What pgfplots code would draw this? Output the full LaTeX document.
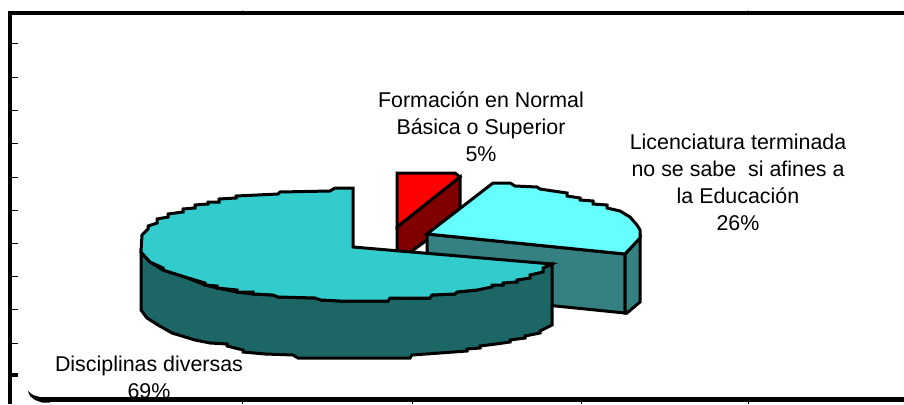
\documentclass[border=0pt]{standalone}
\usepackage{fontspec}
\setmainfont{Liberation Sans}
\usepackage{pgfplots}
\pgfplotsset{compat=1.18}
\definecolor{mainTop}{HTML}{33CCCC}
\definecolor{mainSide}{HTML}{1C6666}
\definecolor{licTop}{HTML}{66FFFF}
\definecolor{licSide}{HTML}{358080}
\definecolor{redTop}{HTML}{FF0000}
\definecolor{redSide}{HTML}{800000}
\begin{document}
\begin{tikzpicture}
\begin{axis}[
    scale only axis,
    width=904pt,
    height=404pt,
    xmin=0, xmax=904,
    ymin=0, ymax=404,
    y dir=reverse,
    axis line style={draw=none},
    ticks=none,
    unbounded coords=jump,
    pie/.style={draw=black, line width=3pt, line join=miter},
]
% red slice, side then top
\addplot[pie, fill=redSide] coordinates {
    (397,227) (460,177) (460,215) (427,240) (397,262)
} --cycle;
\addplot[pie, fill=redTop] coordinates {
    (397,173) (455,173) (460,177) (397,227)
} --cycle;
% licenciatura slice
\addplot[pie, fill=licSide] coordinates {
    (427,234) (625,254) (625,313) (427,293)
} --cycle;
\addplot[pie, fill=licSide] coordinates {
    (625,254) (640,238) (640,302) (627,313) (625,313)
} --cycle;
\addplot[pie, fill=licTop] coordinates {
    (427,234) (493,183) (510,183) (515,186) (537,187) (540,189) (553,191)
    (567,193) (567,196) (580,198) (580,200) (593,201) (593,204) (607,205)
    (607,208) (620,211) (630,217) (637,225) (640,230) (640,238) (625,254)
} --cycle;
% main slice, side then top
\addplot[pie, fill=mainSide] coordinates {
    (141,252) (150,262) (163,270) (185,277) (205,285) (217,288) (237,292)
    (253,294) (273,295) (278,297) (315,298) (321,300) (340,301) (388,301)
    (390,298) (430,298) (432,295) (455,294) (457,292) (477,290) (492,285)
    (503,283) (517,280) (530,275) (543,268) (552,264)
    (552,325) (540,331) (540,333) (525,336) (525,338) (510,340) (510,342)
    (496,344) (480,346) (480,348) (467,349) (467,351) (440,353) (412,355)
    (410,358) (298,358) (293,355) (265,354) (243,352) (243,350) (227,346)
    (227,344) (210,343) (195,340) (172,333) (158,325) (147,318) (141,310)
} --cycle;
\addplot[pie, fill=mainTop] coordinates {
    (353,247) (353,188) (335,188) (330,191) (280,192) (278,194) (257,195)
    (236,196) (236,198) (219,199) (219,202) (208,202) (208,204) (195,205)
    (195,208) (183,209) (183,212) (168,214) (168,217) (157,219) (157,223)
    (148,226) (148,229) (142,235) (141,252) (150,262) (163,268) (163,270)
    (185,277) (205,283) (205,285) (217,286) (217,288) (237,290) (237,292)
    (253,292) (253,294) (273,295) (278,297) (315,298) (321,300)
    (340,301) (388,301) (390,298) (430,298) (432,295) (455,294) (457,292)
    (477,290) (492,287) (492,285) (503,285) (503,283) (517,282) (517,280)
    (530,278) (530,275) (543,272) (543,268) (552,264)
} --cycle;
% labels
\node[align=center, font=\fontsize{21.4}{27}\selectfont, anchor=center]
    at (axis cs:481,127) {Formación en Normal\\Básica o Superior\\5\%};
\node[align=center, font=\fontsize{21.4}{27}\selectfont, anchor=center]
    at (axis cs:738,182) {Licenciatura terminada\\no se sabe\ \ si afines a\\la Educación\\26\%};
\node[align=center, font=\fontsize{21.4}{27}\selectfont, anchor=center]
    at (axis cs:149,377.5) {Disciplinas diversas\\69\%};
% frame
\addplot[black, line width=4pt] coordinates {(8,13) (904,13)};
\addplot[black, line width=3.8pt] coordinates {(10,11) (10,404)};
\addplot[black, line width=5.5pt] coordinates {(45,399.7) (904,399.7)};
\addplot[black, fill=black, draw=none] coordinates {
    (28,391) (33,395) (40,397) (50,397) (50,402.5) (42,402.5) (35,400) (30,396)
} --cycle;
\addplot[black, line width=3.2pt] coordinates {(11,375) (18,375)};
% small ticks
\addplot[black, line width=1pt] coordinates {
    (11,44) (18,44) (11,nan)
    (11,77) (18,77) (11,nan)
    (11,110) (18,110) (11,nan)
    (11,143) (18,143) (11,nan)
    (11,177) (18,177) (11,nan)
    (11,210) (18,210) (11,nan)
    (11,243) (18,243) (11,nan)
    (11,276) (18,276) (11,nan)
    (11,309) (18,309) (11,nan)
    (11,343) (18,343) (11,nan)
    (242,402) (242,404) (242,nan)
    (412,402) (412,404) (412,nan)
    (581,402) (581,404) (581,nan)
    (748,402) (748,404) (748,nan)
};
\addplot[black!35, line width=0.8pt] coordinates {
    (242,10) (242,11) (242,nan)
    (748,10) (748,11)
};
\end{axis}
\end{tikzpicture}
\end{document}
